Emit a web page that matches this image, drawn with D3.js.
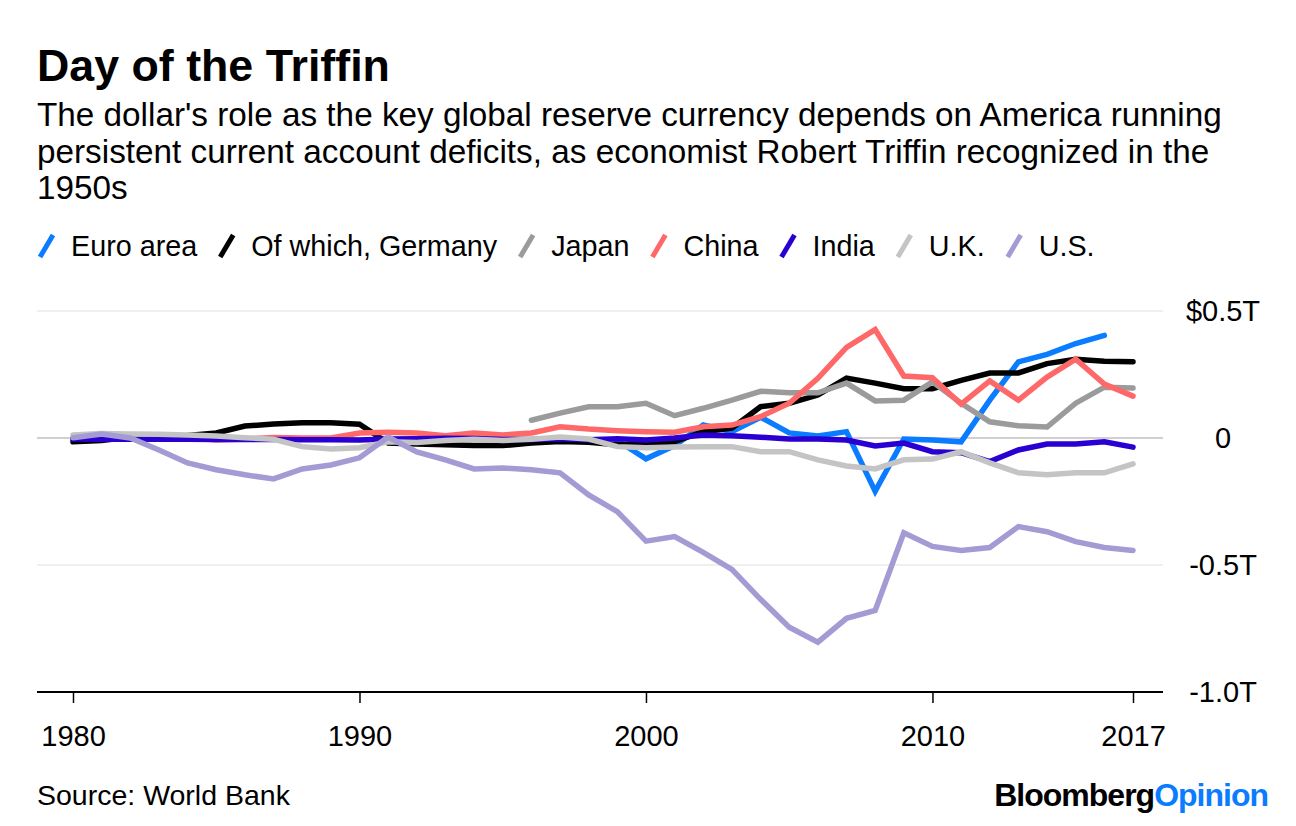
<!DOCTYPE html>
<html>
<head>
<meta charset="utf-8">
<script src="https://cdn.jsdelivr.net/npm/d3@7"></script>
<style>
  html, body { margin: 0; padding: 0; background: #fff; }
  svg { display: block; }
  text { font-family: "Liberation Sans", Arial, sans-serif; fill: #000; }
</style>
</head>
<body>
<svg id="chart" width="1296" height="826"></svg>
<script>
// ---------- DATA (US$ trillions, current account balance) ----------
const years = d3.range(1980, 2018);
const xTickYears = [1980, 1990, 2000, 2010, 2017];
const yTickValues = [0.5, 0, -0.5, -1.0];
const yTickLabels = ["$0.5T", "0", "-0.5T", "-1.0T"];

const seriesNames = ["Euro area", "Of which, Germany", "Japan", "China", "India", "U.K.", "U.S."];
const seriesColors = ["#0a7cff", "#000000", "#9b9b9b", "#ff6868", "#2a00d2", "#c4c4c4", "#a39bd3"];

const euroArea = [null, null, null, null, null, null, null, null, null, null,
  null, null, null, null, null, null, null, null, null, -0.010,
  -0.082, -0.030, 0.051, 0.025, 0.082, 0.020, 0.008, 0.025, -0.210, -0.004,
  -0.008, -0.015, 0.149, 0.300, 0.329, 0.372, 0.404, null];
const germany = [-0.015, -0.010, 0.004, 0.006, 0.010, 0.020, 0.047, 0.055, 0.060, 0.060,
  0.054, -0.020, -0.024, -0.027, -0.030, -0.030, -0.020, -0.014, -0.017, -0.027,
  -0.027, -0.014, 0.025, 0.039, 0.123, 0.137, 0.169, 0.236, 0.216, 0.194,
  0.194, 0.227, 0.256, 0.256, 0.293, 0.310, 0.302, 0.300];
const japan = [null, null, null, null, null, null, null, null, null, null,
  null, null, null, null, null, null, 0.070, 0.098, 0.123, 0.123,
  0.137, 0.088, 0.117, 0.149, 0.184, 0.178, 0.178, 0.216, 0.146, 0.149,
  0.221, 0.137, 0.064, 0.048, 0.043, 0.137, 0.200, 0.197];
const china = [null, null, 0.006, 0.004, 0.002, -0.008, -0.004, 0.002, 0.000, 0.000,
  0.020, 0.023, 0.020, 0.009, 0.020, 0.012, 0.020, 0.044, 0.035, 0.029,
  0.025, 0.023, 0.044, 0.051, 0.084, 0.137, 0.235, 0.357, 0.427, 0.244,
  0.237, 0.133, 0.225, 0.149, 0.240, 0.310, 0.212, 0.165];
const india = [-0.004, -0.005, -0.005, -0.005, -0.005, -0.006, -0.006, -0.006, -0.007, -0.007,
  -0.008, -0.004, -0.003, -0.001, -0.002, -0.006, -0.006, -0.003, -0.007, -0.003,
  -0.008, 0.000, 0.012, 0.009, 0.003, -0.004, -0.004, -0.008, -0.031, -0.020,
  -0.054, -0.058, -0.093, -0.047, -0.024, -0.024, -0.015, -0.036];
const uk = [0.012, 0.018, 0.016, 0.015, 0.012, 0.008, 0.001, -0.005, -0.034, -0.043,
  -0.038, -0.015, -0.018, -0.010, -0.005, -0.010, -0.005, 0.004, -0.004, -0.034,
  -0.038, -0.035, -0.034, -0.034, -0.054, -0.054, -0.086, -0.110, -0.122, -0.086,
  -0.083, -0.054, -0.098, -0.137, -0.145, -0.137, -0.137, -0.102];
const us = [0.001, 0.016, 0.000, -0.047, -0.098, -0.125, -0.145, -0.161, -0.122, -0.106,
  -0.078, 0.004, -0.055, -0.086, -0.122, -0.118, -0.125, -0.137, -0.224, -0.290,
  -0.406, -0.388, -0.450, -0.517, -0.635, -0.745, -0.804, -0.710, -0.679, -0.373,
  -0.427, -0.443, -0.431, -0.349, -0.369, -0.408, -0.431, -0.443];
const seriesValues = [euroArea, germany, japan, china, india, uk, us];

const titleText = "Day of the Triffin";
const subtitleLines = [
  "The dollar's role as the key global reserve currency depends on America running",
  "persistent current account deficits, as economist Robert Triffin recognized in the",
  "1950s"
];
const sourceText = "Source: World Bank";

// ---------- LAYOUT ----------
const svg = d3.select("#chart");
const left = 37, right = 1163;
const x = d3.scaleLinear().domain([1980, 2017]).range([73, 1133]);
const y = d3.scaleLinear().domain([-1, 0.5]).range([692, 311]);

function fitWidth(sel, target) {
  const node = sel.node();
  const fs = parseFloat(sel.attr("font-size"));
  const w = node.getComputedTextLength();
  sel.attr("font-size", (fs * target / w).toFixed(2));
}

// Title
const title = svg.append("text").attr("x", left).attr("y", 81)
  .attr("font-size", 44).attr("font-weight", "bold").text(titleText);
fitWidth(title, 353);

// Subtitle
const sub = svg.append("g");
const subBaselines = [126, 162.5, 199];
const l1 = sub.append("text").attr("x", left).attr("y", subBaselines[0])
  .attr("font-size", 29).text(subtitleLines[0]);
fitWidth(l1, 1185);
const subSize = l1.attr("font-size");
subtitleLines.slice(1).forEach((t, i) => {
  sub.append("text").attr("x", left).attr("y", subBaselines[i + 1])
    .attr("font-size", subSize).text(t);
});

// Legend
const legendY = 246;
const legend = svg.append("g");
const probe = svg.append("text").attr("font-size", 28).text(seriesNames[1]);
fitWidth(probe, 246);
const legendFont = +probe.attr("font-size");
probe.remove();
let lx = left;
seriesNames.forEach((name, i) => {
  const g = legend.append("g");
  g.append("line")
    .attr("x1", lx + 3).attr("y1", legendY + 11)
    .attr("x2", lx + 16).attr("y2", legendY - 11)
    .attr("stroke", seriesColors[i]).attr("stroke-width", 5)
    .attr("stroke-linecap", "butt");
  const t = g.append("text").attr("x", lx + 34).attr("y", legendY)
    .attr("dominant-baseline", "central")
    .attr("font-size", legendFont).text(name);
  const w = t.node().getComputedTextLength();
  lx = lx + 34 + w + 20;
});

// Gridlines
const grid = svg.append("g");
yTickValues.filter(v => v !== -1.0).forEach(v => {
  grid.append("line")
    .attr("x1", left).attr("x2", right)
    .attr("y1", y(v)).attr("y2", y(v))
    .attr("stroke", v === 0 ? "#d0d0d0" : "#efefef")
    .attr("stroke-width", 2);
});

// Y labels
yTickValues.forEach((v, i) => {
  svg.append("text").attr("x", 1223).attr("y", y(v))
    .attr("text-anchor", "middle").attr("dominant-baseline", "central")
    .attr("font-size", 29).text(yTickLabels[i]);
});

// X axis
const xAxis = d3.axisBottom(x)
  .tickValues(xTickYears)
  .tickFormat(d3.format("d"))
  .tickSize(11)
  .tickPadding(22);
const xg = svg.append("g").attr("transform", `translate(0,${y(-1)})`).call(xAxis);
xg.select(".domain").remove();
xg.selectAll(".tick line").attr("stroke", "#000").attr("stroke-width", 1.5);
xg.selectAll(".tick text").attr("font-size", 29)
  .attr("font-family", "Liberation Sans, Arial, sans-serif").attr("fill", "#000");
svg.append("line").attr("x1", left).attr("x2", right)
  .attr("y1", y(-1)).attr("y2", y(-1))
  .attr("stroke", "#000").attr("stroke-width", 2);

// Lines
const line = d3.line()
  .defined(d => d.v !== null)
  .x(d => x(d.year))
  .y(d => y(d.v));
const linesG = svg.append("g");
seriesValues.forEach((vals, i) => {
  const data = years.map((yr, j) => ({ year: yr, v: vals[j] }));
  linesG.append("path").datum(data)
    .attr("d", line)
    .attr("fill", "none")
    .attr("stroke", seriesColors[i])
    .attr("stroke-width", 5.5)
    .attr("stroke-linejoin", "miter")
    .attr("stroke-linecap", "round");
});

// Footer
const src = svg.append("text").attr("x", left).attr("y", 795)
  .attr("dominant-baseline", "central").attr("font-size", 26).text(sourceText);
fitWidth(src, 253);

const logo = svg.append("text").attr("x", 1268).attr("y", 795)
  .attr("text-anchor", "end").attr("dominant-baseline", "central")
  .attr("font-size", 32).attr("font-weight", "bold")
  .attr("letter-spacing", "-1");
logo.append("tspan").attr("fill", "#000").text("Bloomberg");
logo.append("tspan").attr("fill", "#0a7cff").text("Opinion");
</script>
</body>
</html>
